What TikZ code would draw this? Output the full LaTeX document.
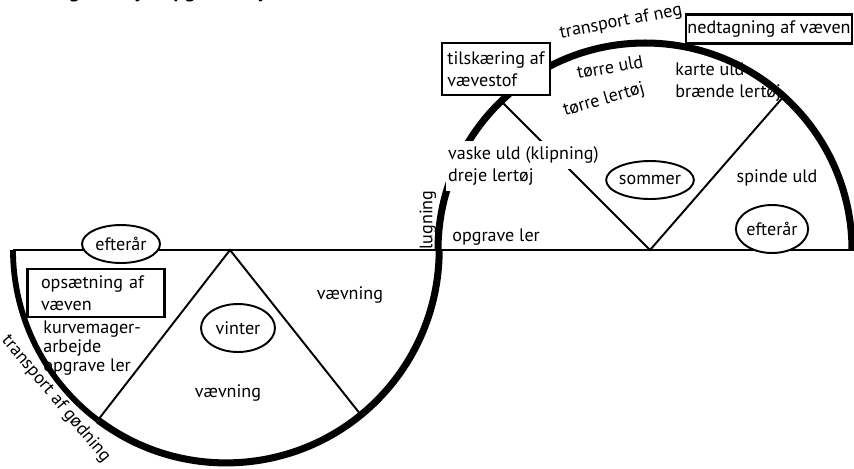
\documentclass[tikz,border=0pt]{standalone}
\usepackage{fontspec}
\setmainfont{PT Sans}
\usetikzlibrary{shapes.geometric}

\begin{document}
\begin{tikzpicture}[x=0.02cm,y=-0.02cm,
    every node/.style={font=\fontsize{10.3}{12.5}\selectfont},
    tynd/.style={line width=1.1pt},
    tyk/.style={line width=4pt},
    boks/.style={draw,line width=1.4pt,fill=white,align=left,inner sep=0pt},
    aarstid/.style={draw,ellipse,line width=1.1pt,fill=white,inner sep=0pt},
    tekst/.style={align=left,inner sep=0pt}]
\useasboundingbox (0,0) rectangle (854,468);
% centre og hjoerner
\coordinate (vc) at (226,250);
\coordinate (sc) at (645,250);
\coordinate (venstre) at (13,250);
\coordinate (hoejre) at (854,250);
\coordinate (vtop) at (230,250);
\coordinate (stop) at (650,250);
\coordinate (v1) at (98,420);
\coordinate (v2) at (361,415);
\coordinate (s1) at (501,101);
\coordinate (s2) at (784,96);
% overskrift (skaaret af foroven)
\node[anchor=base west,inner sep=0pt,font=\bfseries\fontsize{12}{14}\selectfont] (titel) at (2,-3) {3.3 Årlige arbejdsopgavers cyklus};
% linjer
\draw[tynd] (venstre) -- (hoejre);
\draw[tynd] (v1) -- (vtop) -- (v2);
\draw[tynd] (s1) -- (stop) -- (s2);
\draw[line width=3.3pt] (venstre) arc[start angle=180,end angle=127,radius=213];
\draw[tyk] (v1) arc[start angle=127,end angle=0,radius=213];
\draw[tyk] (438,250) arc[start angle=180,end angle=360,radius=207];
% vinter
\node[aarstid,minimum width=1.56cm,minimum height=0.76cm] (efteraar1) at (121,244) {efterår};
\node[boks,text width=2.2cm,minimum width=2.74cm,minimum height=0.96cm] (opsaetning) at (96,293) {opsætning af\\væven};
\node[tekst,anchor=west,font=\fontsize{10.3}{10.6}\selectfont] (kurve) at (43,348) {kurvemager-\\arbejde\\opgrave ler};
\node[tekst,rotate=-50] (goedning) at (56,399) {transport af gødning};
\node[aarstid,minimum width=1.48cm,minimum height=0.96cm] (vinter) at (238,328) {vinter};
\node[tekst] (vaevning1) at (228,393) {vævning};
\node[tekst] (vaevning2) at (350,295) {vævning};
\node[tekst,rotate=90] (lugning) at (428,220) {lugning};
\node[tekst,anchor=west] (opgrave) at (452,237) {opgrave ler};
% sommer
\node[boks,minimum width=2.16cm,minimum height=1.04cm] (tilskaering) at (496,69) {tilskæring af\\vævestof};
\node[boks,minimum width=3.32cm,minimum height=0.58cm] (nedtagning) at (769,29) {nedtagning af væven};
\node[tekst,rotate=11] (neg) at (621,22) {transport af neg};
\node[tekst,rotate=10] (toerreuld) at (610,67) {tørre uld};
\node[tekst,rotate=16] (toerrelertoej) at (604,100) {tørre lertøj};
\node[tekst,anchor=west] (karte) at (675,82) {karte uld\\brænde lertøj};
\node[tekst,anchor=west,fill=white,inner ysep=3pt,inner xsep=1pt] (vaske) at (446,155) {vaske uld (klipning)};
\node[tekst,anchor=west,fill=white,inner ysep=3pt,inner xsep=1pt] (dreje) at (446,177) {dreje lertøj};
\node[aarstid,minimum width=1.52cm,minimum height=0.76cm] (sommer) at (650,180) {sommer};
\node[tekst] (spinde) at (777,178) {spinde uld};
\node[aarstid,minimum width=1.40cm,minimum height=0.96cm] (efteraar2) at (772,229) {efterår};
\end{tikzpicture}
\end{document}
